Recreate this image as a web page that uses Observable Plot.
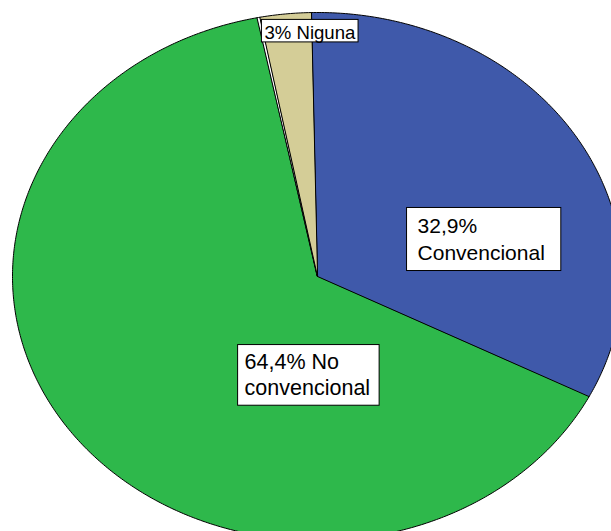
<!DOCTYPE html>
<html><head><meta charset="utf-8">
<script src="https://cdn.jsdelivr.net/npm/d3@7"></script>
<script src="https://cdn.jsdelivr.net/npm/@observablehq/plot@0.6"></script>
<style>html,body{margin:0;padding:0;background:#fff;overflow:hidden}</style>
</head><body><div id="chart"></div>
<script>
// Data
const categories = ["Convencional", "No convencional", "", "Niguna"];
const values = [32.9, 64.4, 0.15, 2.7];
const colors = ["#3F59AA", "#2EB84B", "#FFFFFF", "#D4CD97"];
const labelTexts = ["32,9%\nConvencional", "64,4% No\nconvencional", null, "3% Niguna"];

// Layout (data units of the unit ellipse)
const startDeg = -1.2;
const labelX = [0.328, -0.239, null, -0.174];
const labelY = [0.233, -0.277, null, 0.962];
const labelSize = [21, 21.5, null, 18.6];
const labelPad = [[7, 16, 7, 11], [5, 9, 5, 7], null, [2.5, 2, -1, 3]]; // top,right,bottom,left

const a0 = startDeg * Math.PI / 180;
const arcs = d3.pie().sort(null).startAngle(a0).endAngle(a0 + 2 * Math.PI)(values);
const pts = [];
arcs.forEach((s, i) => {
  pts.push({i, x: 0, y: 0});
  const n = Math.max(2, Math.ceil((s.endAngle - s.startAngle) / (Math.PI / 360)));
  for (let k = 0; k <= n; k++) {
    const a = s.startAngle + (s.endAngle - s.startAngle) * k / n;
    pts.push({i, x: Math.sin(a), y: Math.cos(a)});
  }
});

const labels = labelTexts.map((t, i) => ({t, i, x: labelX[i], y: labelY[i], size: labelSize[i], pad: labelPad[i]}))
  .filter(d => d.t !== null);

const plot = Plot.plot({
  width: 611,
  height: 531,
  margin: 0,
  x: {domain: [-1, 1], range: [12, 622], axis: null},
  y: {domain: [-1, 1], range: [540, 12], axis: null},
  color: {type: "ordinal", domain: d3.range(categories.length), range: colors},
  style: {background: "white", overflow: "hidden", fontFamily: "'Liberation Sans', Arial, sans-serif"},
  marks: [
    Plot.line(pts, {x: "x", y: "y", z: "i", fill: "i", stroke: "black", strokeWidth: 1, curve: "linear-closed", strokeLinejoin: "miter"}),
    Plot.text(labels, {x: "x", y: "y", text: "t", textAnchor: "start", lineAnchor: "top", fontSize: "size", lineHeight: 1.24, fill: "black", fontFamily: "'Liberation Sans', Arial, sans-serif"})
  ]
});
document.getElementById("chart").append(plot);

// white boxes behind labels
const texts = plot.querySelectorAll('g[aria-label="text"] text');
texts.forEach((el, k) => {
  const b = el.getBBox();
  const p = labels[k].pad;
  const r = document.createElementNS("http://www.w3.org/2000/svg", "rect");
  r.setAttribute("x", b.x - p[3]);
  r.setAttribute("y", b.y - p[0]);
  r.setAttribute("width", b.width + p[1] + p[3]);
  r.setAttribute("height", b.height + p[0] + p[2]);
  r.setAttribute("fill", "white");
  r.setAttribute("stroke", "black");
  r.setAttribute("stroke-width", 1);
  const tr = el.getAttribute("transform");
  if (tr) r.setAttribute("transform", tr);
  el.parentNode.insertBefore(r, el);
});
</script>
</body></html>
